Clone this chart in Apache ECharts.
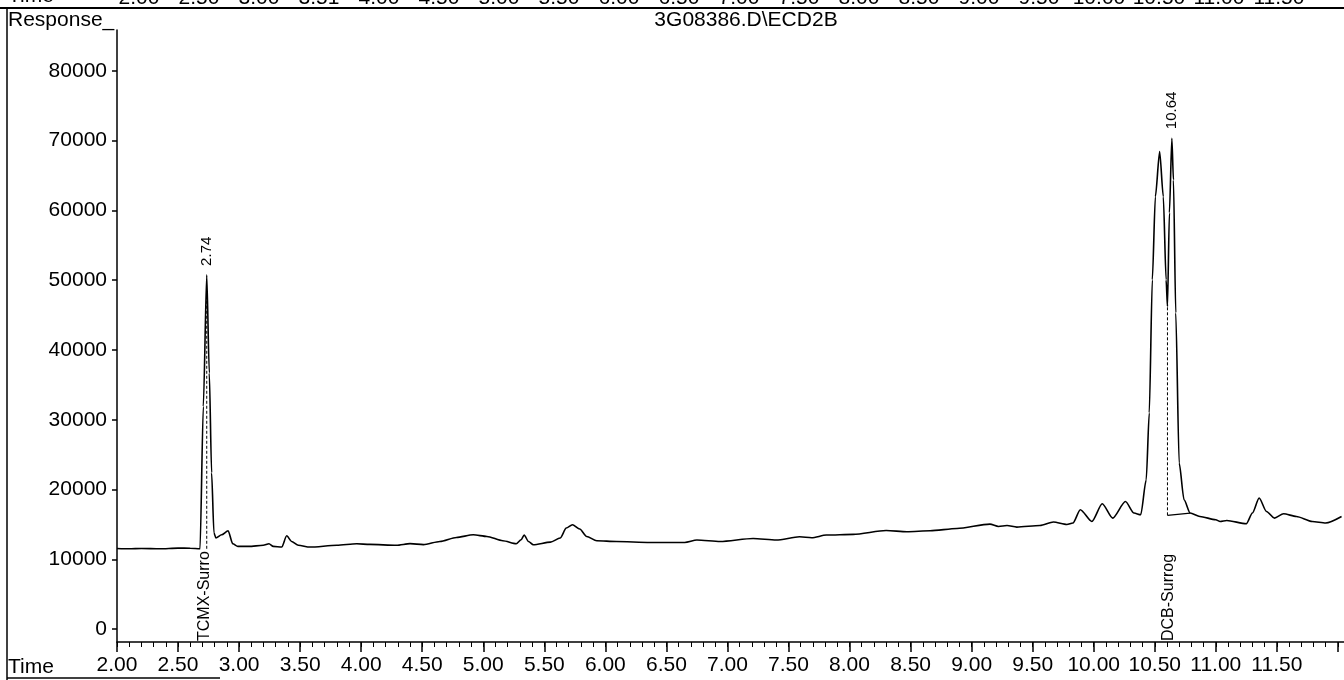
<!DOCTYPE html>
<html>
<head>
<meta charset="utf-8">
<script src="https://cdn.jsdelivr.net/npm/echarts@6/dist/echarts.min.js"></script>
<style>
  html, body { margin: 0; padding: 0; background: #fff; }
  #mainChart { width: 1344px; height: 680px; }
</style>
</head>
<body>
<div id="mainChart"></div>
<script>
// retention time (min) and detector response
var times = [2.00, 2.10, 2.20, 2.35, 2.50, 2.60, 2.68, 2.707, 2.735, 2.756, 2.775, 2.794, 2.81, 2.857, 2.91, 2.948, 2.99, 3.08, 3.198, 3.245,
  3.28, 3.349, 3.39, 3.43, 3.485, 3.58, 3.80, 3.963, 4.07, 4.29, 4.40, 4.51, 4.645, 4.78, 4.918, 5.03, 5.16, 5.27, 5.31, 5.335,
  5.37, 5.41, 5.55, 5.63, 5.68, 5.73, 5.79, 5.847, 5.93, 6.09, 6.365, 6.65, 6.75, 6.94, 7.21, 7.40, 7.59, 7.69, 7.81, 8.03,
  8.30, 8.47, 8.66, 8.88, 9.15, 9.22, 9.29, 9.37, 9.56, 9.67, 9.78, 9.83, 9.89, 9.985, 10.07, 10.155, 10.26, 10.33, 10.385, 10.43,
  10.455, 10.48, 10.505, 10.54, 10.57, 10.593, 10.604, 10.62, 10.64, 10.653, 10.672, 10.70, 10.74, 10.79, 10.87, 11.00, 11.035, 11.09, 11.25, 11.30,
  11.355, 11.415, 11.48, 11.555, 11.66, 11.79, 11.90, 12.03];
var response = [11550, 11500, 11550, 11500, 11600, 11580, 11500, 31900, 50760, 36700, 22390, 13800, 13040, 13510, 14080, 12220, 11840, 11840, 12000, 12220,
  11840, 11750, 13370, 12550, 12000, 11750, 12000, 12220, 12130, 12000, 12240, 12100, 12550, 13120, 13510, 13270, 12650, 12220, 12790, 13470,
  12550, 12080, 12450, 13040, 14470, 14950, 14330, 13270, 12650, 12550, 12410, 12410, 12750, 12550, 12980, 12750, 13220, 13080, 13470, 13560,
  14130, 13940, 14080, 14410, 15040, 14700, 14840, 14610, 14840, 15330, 14990, 15200, 17100, 15420, 17950, 15900, 18280, 16620, 16380, 21390,
  30990, 50050, 61980, 68430, 61980, 50050, 46220, 59650, 70350, 64370, 45320, 23780, 18520, 16620, 16130, 15660, 15420, 15560, 15090, 16620,
  18770, 16850, 15900, 16520, 16130, 15420, 15190, 16130];

// integration marks
var tcmxDropT = [2.735, 2.735];
var tcmxDropV = [11500, 47000];
var dcbDropT = [10.604, 10.604];
var dcbDropV = [16300, 46220];
var dcbBaseT = [10.604, 10.79];
var dcbBaseV = [16300, 16620];

// peak annotations
var peakTimes = [2.735, 10.64];
var peakTops = [50760, 70350];
var peakLabels = ['2.74', '10.64'];
var compoundTimes = [2.72, 10.61];
var compoundNames = ['TCMX-Surro', 'DCB-Surrog'];

// axes
var xTickValues = [2.0, 2.5, 3.0, 3.5, 4.0, 4.5, 5.0, 5.5, 6.0, 6.5, 7.0, 7.5, 8.0, 8.5, 9.0, 9.5, 10.0, 10.5, 11.0, 11.5, 12.0];
var xLabelValues = [2.0, 2.5, 3.0, 3.5, 4.0, 4.5, 5.0, 5.5, 6.0, 6.5, 7.0, 7.5, 8.0, 8.5, 9.0, 9.5, 10.0, 10.5, 11.0, 11.5];
var yTickValues = [0, 10000, 20000, 30000, 40000, 50000, 60000, 70000, 80000];
// the clipped axis of the previous page at the very top
var topTickValues = [2.0, 2.5, 3.0, 3.5, 4.0, 4.5, 5.0, 5.5, 6.0, 6.5, 7.0, 7.5, 8.0, 8.5, 9.0, 9.5, 10.0, 10.5, 11.0, 11.5];
var topLabels = ['2.00', '2.50', '3.00', '3.51', '4.00', '4.50', '5.00', '5.50', '6.00', '6.50', '7.00', '7.50', '8.00', '8.50', '9.00', '9.50', '10.00', '10.50', '11.00', '11.50'];

var xMin = 2.0, xMax = 12.05;
var yMin = -1860, yMax = 85860;

var xMinor = [];
for (var t = 20; t <= 120; t++) xMinor.push(t / 10);
var yMinor = [];
for (var r = 0; r <= 84000; r += 2000) yMinor.push(r);

function pairs(a, b) {
  return a.map(function (v, i) { return [v, b[i]]; });
}

var FONT = '"Liberation Sans", Arial, sans-serif';
var chart = echarts.init(document.getElementById('mainChart'));

var option = {
  backgroundColor: '#fff',
  animation: false,
  grid: { left: 117, right: 0, top: 30, bottom: 38, containLabel: false, outerBoundsMode: 'none' },
  xAxis: [
    {
      type: 'value', min: xMin, max: xMax, position: 'bottom',
      axisLine: { show: true, onZero: false, lineStyle: { color: '#000', width: 1.5 } },
      axisTick: { show: true, length: 10, customValues: xTickValues, lineStyle: { color: '#000', width: 1.5 } },
      axisLabel: {
        customValues: xLabelValues, margin: 13, color: '#000', fontSize: 21, fontFamily: FONT,
        formatter: function (v) { return v.toFixed(2); }
      },
      splitLine: { show: false }
    },
    {
      type: 'value', min: xMin, max: xMax, position: 'bottom',
      axisLine: { show: false, onZero: false },
      axisTick: { show: true, length: 5, customValues: xMinor, lineStyle: { color: '#000', width: 1 } },
      axisLabel: { show: false },
      splitLine: { show: false }
    },
    {
      type: 'value', min: 1.8167, max: 12.042, position: 'top',
      axisLine: { show: false, onZero: false },
      axisTick: { show: false },
      axisLabel: {
        customValues: topTickValues, margin: 21, color: '#000', fontSize: 21, fontFamily: FONT,
        formatter: function (v) { return topLabels[topTickValues.indexOf(v)]; }
      },
      splitLine: { show: false }
    }
  ],
  yAxis: [
    {
      type: 'value', min: yMin, max: yMax,
      axisLine: { show: true, onZero: false, lineStyle: { color: '#000', width: 1.5 } },
      axisTick: { show: true, length: 5, customValues: yTickValues, lineStyle: { color: '#000', width: 1.5 } },
      axisLabel: {
        customValues: yTickValues, margin: 10, color: '#000', fontSize: 21, fontFamily: FONT,
        formatter: function (v) { return String(v); }
      },
      splitLine: { show: false }
    },
    {
      type: 'value', min: yMin, max: yMax,
      axisLine: { show: false, onZero: false },
      axisTick: { show: true, length: 3, customValues: yMinor, lineStyle: { color: '#000', width: 1 } },
      axisLabel: { show: false },
      splitLine: { show: false }
    }
  ],
  series: [
    {
      type: 'line', name: 'ECD2B', data: pairs(times, response), showSymbol: false,
      smooth: 0.25, smoothMonotone: 'x',
      lineStyle: { color: '#000', width: 1.6 }, z: 3
    },
    {
      type: 'line', data: pairs(tcmxDropT, tcmxDropV), showSymbol: false,
      lineStyle: { color: '#000', width: 1, type: [3, 2] }
    },
    {
      type: 'line', data: pairs(dcbDropT, dcbDropV), showSymbol: false,
      lineStyle: { color: '#000', width: 1, type: [3, 2] }
    },
    {
      type: 'line', data: pairs(dcbBaseT, dcbBaseV), showSymbol: false,
      lineStyle: { color: '#000', width: 1.2 }
    }
  ]
};
chart.setOption(option);

// text placed through the chart's own scales
var g = [];
var axisY = chart.convertToPixel({ gridIndex: 0 }, [xMin, yMin])[1];
peakTimes.forEach(function (pt, i) {
  var p = chart.convertToPixel({ gridIndex: 0 }, [pt, peakTops[i]]);
  g.push({
    type: 'text', x: p[0], y: p[1] - 9, rotation: Math.PI / 2,
    style: { text: peakLabels[i], fill: '#000', font: '15px ' + FONT, align: 'left', verticalAlign: 'middle' }
  });
});
compoundTimes.forEach(function (ct, i) {
  var px = chart.convertToPixel({ gridIndex: 0 }, [ct, 0])[0];
  g.push({
    type: 'text', x: px, y: axisY - 1, rotation: Math.PI / 2,
    style: { text: compoundNames[i], fill: '#000', font: '16px ' + FONT, align: 'left', verticalAlign: 'middle' }
  });
});
g.push(
  { type: 'text', x: 8, y: 20, style: { text: 'Response_', fill: '#000', font: '21px ' + FONT, verticalAlign: 'middle' } },
  { type: 'text', x: 746, y: 20, style: { text: '3G08386.D\\ECD2B', fill: '#000', font: '21px ' + FONT, align: 'center', verticalAlign: 'middle' } },
  { type: 'text', x: 8, y: 667, style: { text: 'Time', fill: '#000', font: '21px ' + FONT, verticalAlign: 'middle' } },
  { type: 'text', x: 8, y: -4, style: { text: 'Time', fill: '#000', font: '21px ' + FONT, verticalAlign: 'middle' } },
  { type: 'line', shape: { x1: 0, y1: 8, x2: 1344, y2: 8 }, style: { stroke: '#000', lineWidth: 2 } },
  { type: 'line', shape: { x1: 7, y1: 8, x2: 7, y2: 680 }, style: { stroke: '#000', lineWidth: 1.5 } },
  { type: 'line', shape: { x1: 7, y1: 678, x2: 220, y2: 678 }, style: { stroke: '#000', lineWidth: 1.5 } }
);
chart.setOption({ graphic: g });
</script>
</body>
</html>
